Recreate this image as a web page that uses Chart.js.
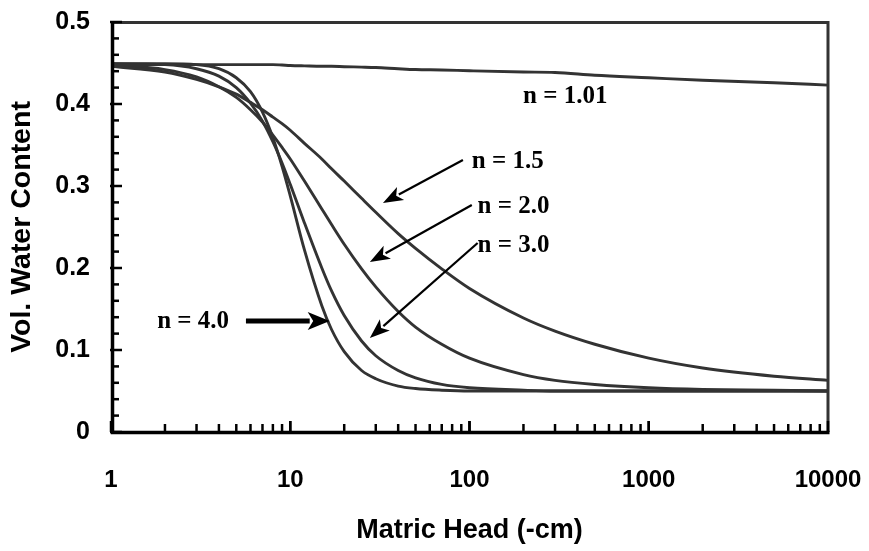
<!DOCTYPE html>
<html><head><meta charset="utf-8">
<script src="https://cdn.jsdelivr.net/npm/chart.js@4/dist/chart.umd.min.js"></script>
<style>html,body{margin:0;padding:0;background:#fff}#wrap{width:869px;height:551px}</style>
</head><body><div id="wrap"><canvas id="c" width="869" height="551"></canvas></div>
<script>
// ---- data ----
const heads = [1, 2, 3, 4, 5, 6, 7, 8, 9, 10, 12, 15, 17, 20, 25, 30, 40, 50, 70, 100, 200, 300, 500, 1000, 2000, 5000, 10000];
const theta_n101 = [0.448, 0.448, 0.448, 0.448, 0.448, 0.448, 0.448, 0.448, 0.4475, 0.447, 0.4465, 0.446, 0.446, 0.4455, 0.445, 0.4445, 0.443, 0.442, 0.4415, 0.4405, 0.439, 0.4385, 0.435, 0.432, 0.429, 0.426, 0.423];
const theta_n15  = [0.446, 0.439, 0.430, 0.421, 0.412, 0.402, 0.393, 0.384, 0.376, 0.368, 0.352, 0.333, 0.321, 0.306, 0.285, 0.268, 0.242, 0.224, 0.199, 0.175, 0.139, 0.123, 0.107, 0.090, 0.078, 0.068, 0.063];
const theta_n20  = [0.448, 0.442, 0.433, 0.421, 0.408, 0.393, 0.378, 0.362, 0.347, 0.333, 0.306, 0.272, 0.253, 0.229, 0.199, 0.177, 0.147, 0.128, 0.107, 0.090, 0.070, 0.063, 0.058, 0.054, 0.052, 0.051, 0.050];
const theta_n30  = [0.449, 0.448, 0.443, 0.434, 0.420, 0.401, 0.379, 0.354, 0.328, 0.302, 0.255, 0.200, 0.172, 0.142, 0.111, 0.093, 0.075, 0.066, 0.058, 0.054, 0.051, 0.050, 0.050, 0.050, 0.050, 0.050, 0.050];
const theta_n40  = [0.449, 0.449, 0.448, 0.443, 0.432, 0.415, 0.390, 0.359, 0.324, 0.288, 0.222, 0.154, 0.125, 0.098, 0.075, 0.065, 0.056, 0.053, 0.051, 0.050, 0.050, 0.050, 0.050, 0.050, 0.050, 0.050, 0.050];
const seriesNames = ['n = 1.01', 'n = 1.5', 'n = 2.0', 'n = 3.0', 'n = 4.0'];
const xTickValues = [1, 10, 100, 1000, 10000];
const xTickLabels = ['1', '10', '100', '1000', '10000'];
const yTickValues = [0, 0.1, 0.2, 0.3, 0.4, 0.5];
const yTickLabels = ['0', '0.1', '0.2', '0.3', '0.4', '0.5'];
const xTitle = 'Matric Head (-cm)';
const yTitle = 'Vol. Water Content';

// annotation anchors (data coordinates: head, theta)
const labelNotes = [
  {text: 'n = 1.01', h: 199, t: 0.4012},
  {text: 'n = 1.5',  h: 103, t: 0.322},
  {text: 'n = 2.0',  h: 111, t: 0.267},
  {text: 'n = 3.0',  h: 111, t: 0.2195},
  {text: 'n = 4.0',  h: 1.81, t: 0.1268}
];
const arrowNotes = [
  {h1: 91.9, t1: 0.3317, h2: 32.9, t2: 0.2793, heavy: false},
  {h1: 103,  t1: 0.2768, h2: 27.8, t2: 0.2073, heavy: false},
  {h1: 111,  t1: 0.2305, h2: 27.8, t2: 0.1146, heavy: false},
  {h1: 5.66, t1: 0.1354, h2: 16.6, t2: 0.1354, heavy: true}
];

const seriesValues = [theta_n101, theta_n15, theta_n20, theta_n30, theta_n40];
const datasets = seriesValues.map((vals, i) => ({
  label: seriesNames[i],
  data: heads.map((h, j) => ({x: h, y: vals[j]})),
  borderColor: '#333333',
  borderWidth: 2.9,
  pointRadius: 0,
  fill: false,
  cubicInterpolationMode: 'monotone'
}));

const SANS = '"Liberation Sans", Arial, sans-serif';
const SERIF = '"Liberation Serif", "Times New Roman", serif';

function drawArrow(ctx, x1, y1, x2, y2, lw, hl, hw) {
  const ang = Math.atan2(y2 - y1, x2 - x1);
  const bx = x2 - hl * Math.cos(ang), by = y2 - hl * Math.sin(ang);
  ctx.lineWidth = lw;
  ctx.beginPath(); ctx.moveTo(x1, y1); ctx.lineTo(bx + 2 * Math.cos(ang), by + 2 * Math.sin(ang)); ctx.stroke();
  const nx = -Math.sin(ang), ny = Math.cos(ang);
  ctx.beginPath();
  ctx.moveTo(x2, y2);
  ctx.lineTo(bx + nx * hw / 2, by + ny * hw / 2);
  ctx.lineTo(bx + (x2 - bx) * 0.25, by + (y2 - by) * 0.25);
  ctx.lineTo(bx - nx * hw / 2, by - ny * hw / 2);
  ctx.closePath(); ctx.fill();
}

function zeroPad(s) { s.paddingLeft = 0; s.paddingRight = 0; s.paddingTop = 0; s.paddingBottom = 0; }

const framePlugin = {
  id: 'frame',
  afterDatasetsDraw(chart) {
    const {ctx, chartArea: a, scales: {x, y}} = chart;
    ctx.save();
    // top and right border
    ctx.strokeStyle = '#333333'; ctx.lineWidth = 3;
    ctx.beginPath(); ctx.moveTo(a.left, a.top + 0.5); ctx.lineTo(a.right, a.top + 0.5); ctx.lineTo(a.right, a.bottom); ctx.stroke();
    // axes
    ctx.strokeStyle = '#000'; ctx.lineWidth = 3.5;
    ctx.beginPath(); ctx.moveTo(a.left + 1.5, a.top - 1); ctx.lineTo(a.left + 1.5, a.bottom + 0.5); ctx.lineTo(a.right + 1.5, a.bottom + 0.5); ctx.stroke();
    // y ticks (inside)
    ctx.lineWidth = 2.5;
    for (let i = 0; i <= 25; i++) {
      const py = y.getPixelForValue(i * 0.02);
      const major = i % 5 === 0;
      ctx.beginPath();
      ctx.moveTo(major ? a.left - 1 : a.left + 2, py);
      ctx.lineTo(major ? a.left + 11 : a.left + 8, py);
      ctx.stroke();
    }
    // x ticks (inside)
    for (const d of [1, 10, 100, 1000]) {
      for (let k = 1; k <= 10; k++) {
        const px = x.getPixelForValue(k * d);
        const major = (k === 1 || k === 10);
        ctx.beginPath();
        ctx.moveTo(px, a.bottom);
        ctx.lineTo(px, a.bottom - (major ? 11 : 8));
        ctx.stroke();
      }
    }
    ctx.restore();
  },
  afterDraw(chart) {
    const {ctx, scales: {x, y}} = chart;
    ctx.save();
    ctx.fillStyle = '#000'; ctx.strokeStyle = '#000';
    ctx.font = 'bold 25px ' + SERIF;
    ctx.textAlign = 'left'; ctx.textBaseline = 'alphabetic';
    for (const n of labelNotes) ctx.fillText(n.text, x.getPixelForValue(n.h), y.getPixelForValue(n.t));
    for (const ar of arrowNotes) {
      drawArrow(ctx, x.getPixelForValue(ar.h1), y.getPixelForValue(ar.t1),
        x.getPixelForValue(ar.h2), y.getPixelForValue(ar.t2),
        ar.heavy ? 5 : 2.2, ar.heavy ? 22 : 20, ar.heavy ? 18 : 15);
    }
    ctx.restore();
  }
};

new Chart(document.getElementById('c'), {
  type: 'line',
  data: {datasets},
  options: {
    responsive: false,
    animation: false,
    devicePixelRatio: 1,
    layout: {padding: {top: 22, right: 41, left: 0, bottom: 0}},
    plugins: {legend: {display: false}, tooltip: {enabled: false}},
    scales: {
      x: {
        type: 'logarithmic', min: 1, max: 10000,
        grid: {display: false, drawTicks: false},
        border: {display: false},
        afterBuildTicks: (s) => { s.ticks = xTickValues.map(v => ({value: v})); },
        afterFit: (s) => { s.height = 119; zeroPad(s); },
        ticks: {
          autoSkip: false, maxRotation: 0, padding: 34, color: '#000',
          font: {family: SANS, size: 24, weight: 'bold'},
          callback: (v, i) => xTickLabels[i]
        },
        title: {display: true, text: xTitle, color: '#000', padding: {top: 0, bottom: 4},
          font: {family: SANS, size: 27, weight: 'bold'}}
      },
      y: {
        type: 'linear', min: 0, max: 0.5,
        grid: {display: false, drawTicks: false},
        border: {display: false},
        afterBuildTicks: (s) => { s.ticks = yTickValues.map(v => ({value: v})); },
        afterFit: (s) => { s.width = 111; zeroPad(s); },
        ticks: {
          padding: 21, color: '#000',
          font: {family: SANS, size: 25, weight: 'bold'},
          callback: (v, i) => yTickLabels[i]
        },
        title: {display: true, text: yTitle, color: '#000', padding: {top: 5, bottom: 0},
          font: {family: SANS, size: 28.5, weight: 'bold'}}
      }
    }
  },
  plugins: [framePlugin]
});
</script>
</body></html>
